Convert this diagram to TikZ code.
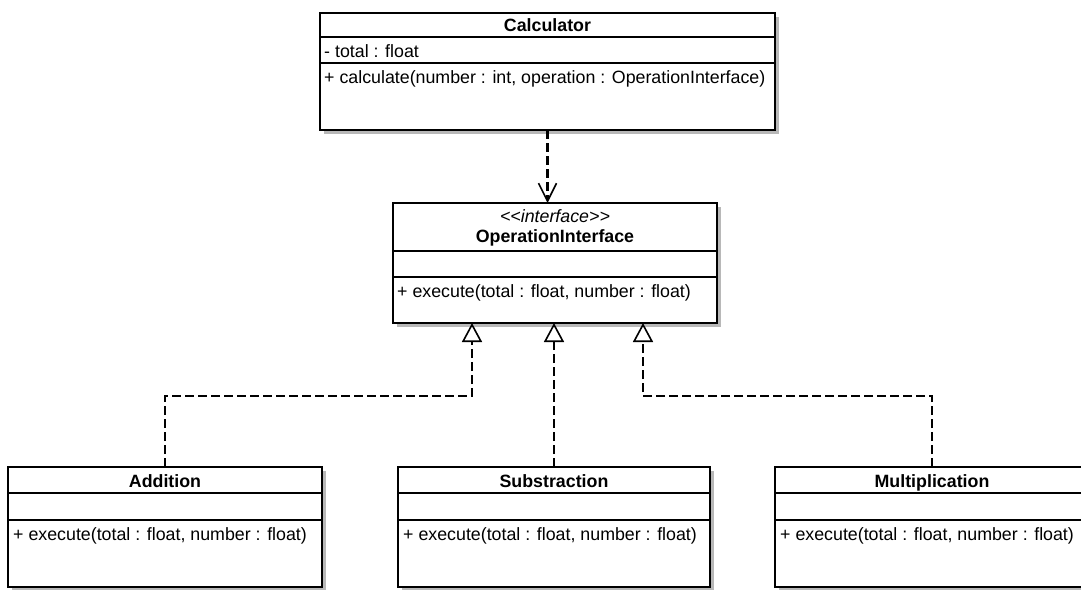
\documentclass[tikz,border=0pt]{standalone}
\usepackage{fontspec}
\setmainfont{Liberation Sans}
\usetikzlibrary{arrows.meta,shadows}

\begin{document}
\begin{tikzpicture}[x=1pt,y=-1pt,
  every node/.style={font=\fontsize{17.8}{20}\selectfont},
  classbox/.style={draw, line width=2.6pt, fill=white, inner sep=0pt, outer sep=0pt, anchor=north west,
    drop shadow={shadow xshift=4pt, shadow yshift=-4pt, opacity=1, fill=black!28}},
  divider/.style={line width=1.8pt},
  member/.style={anchor=base west, inner sep=0pt},
  classname/.style={anchor=base, inner sep=0pt, font=\fontsize{17.8}{20}\selectfont\bfseries},
  depends/.style={line width=2.4pt, dash pattern=on 9pt off 4pt,
    -{Straight Barb[length=18pt,width=18pt,line width=1.6pt]}},
  realizes/.style={line width=1.8pt, dash pattern=on 9pt off 4pt,
    -{Triangle[open,length=19pt,width=20pt,line width=1.6pt,fill=white]}}]
  \useasboundingbox (0,0) rectangle (1081,589);
  \clip (0,0) rectangle (1081,589);

  % Calculator
  \node[classbox, minimum width=455pt, minimum height=117pt] (calc) at (320,13) {};
  \draw[divider] ([yshift=-24pt]calc.north west) -- ([yshift=-24pt]calc.north east);
  \draw[divider] ([yshift=-50pt]calc.north west) -- ([yshift=-50pt]calc.north east);
  \node[classname] (calc-name) at (547.5,31) {Calculator};
  \node[member] (calc-attr) at (324,57) {- total : float};
  \node[member] (calc-op) at (324,83) {+ calculate(number : int, operation : OperationInterface)};

  % OperationInterface
  \node[classbox, minimum width=324pt, minimum height=120pt] (iface) at (393,203) {};
  \draw[divider] ([yshift=-48pt]iface.north west) -- ([yshift=-48pt]iface.north east);
  \draw[divider] ([yshift=-74pt]iface.north west) -- ([yshift=-74pt]iface.north east);
  \node[anchor=base, inner sep=0pt] (iface-stereo) at (555,222) {\itshape <\kern0pt<interface>\kern0pt>};
  \node[classname] (iface-name) at (555,242) {OperationInterface};
  \node[member] (iface-op) at (397,297) {+ execute(total : float, number : float)};

  % Addition
  \node[classbox, minimum width=314pt, minimum height=120pt] (add) at (8,467) {};
  \draw[divider] ([yshift=-26pt]add.north west) -- ([yshift=-26pt]add.north east);
  \draw[divider] ([yshift=-53pt]add.north west) -- ([yshift=-53pt]add.north east);
  \node[classname] (add-name) at (165,487) {Addition};
  \node[member] (add-op) at (13,540) {+ execute(total : float, number : float)};

  % Substraction
  \node[classbox, minimum width=312pt, minimum height=120pt] (sub) at (398,467) {};
  \draw[divider] ([yshift=-26pt]sub.north west) -- ([yshift=-26pt]sub.north east);
  \draw[divider] ([yshift=-53pt]sub.north west) -- ([yshift=-53pt]sub.north east);
  \node[classname] (sub-name) at (554,487) {Substraction};
  \node[member] (sub-op) at (403,540) {+ execute(total : float, number : float)};

  % Multiplication
  \node[classbox, minimum width=314pt, minimum height=120pt] (mult) at (775,467) {};
  \draw[divider] ([yshift=-26pt]mult.north west) -- ([yshift=-26pt]mult.north east);
  \draw[divider] ([yshift=-53pt]mult.north west) -- ([yshift=-53pt]mult.north east);
  \node[classname] (mult-name) at (932,487) {Multiplication};
  \node[member] (mult-op) at (780,540) {+ execute(total : float, number : float)};

  % dependency and realizations
  \draw[depends] (calc.south) -- (calc.south |- iface.north);
  \coordinate (rail) at (0,396);
  \draw[realizes] (add.north) -- (add.north |- rail) -| ([xshift=-83pt]iface.south);
  \draw[realizes] (sub.north) -- (sub.north |- iface.south);
  \draw[realizes] (mult.north) -- (mult.north |- rail) -| ([xshift=88pt]iface.south);
\end{tikzpicture}
\end{document}
